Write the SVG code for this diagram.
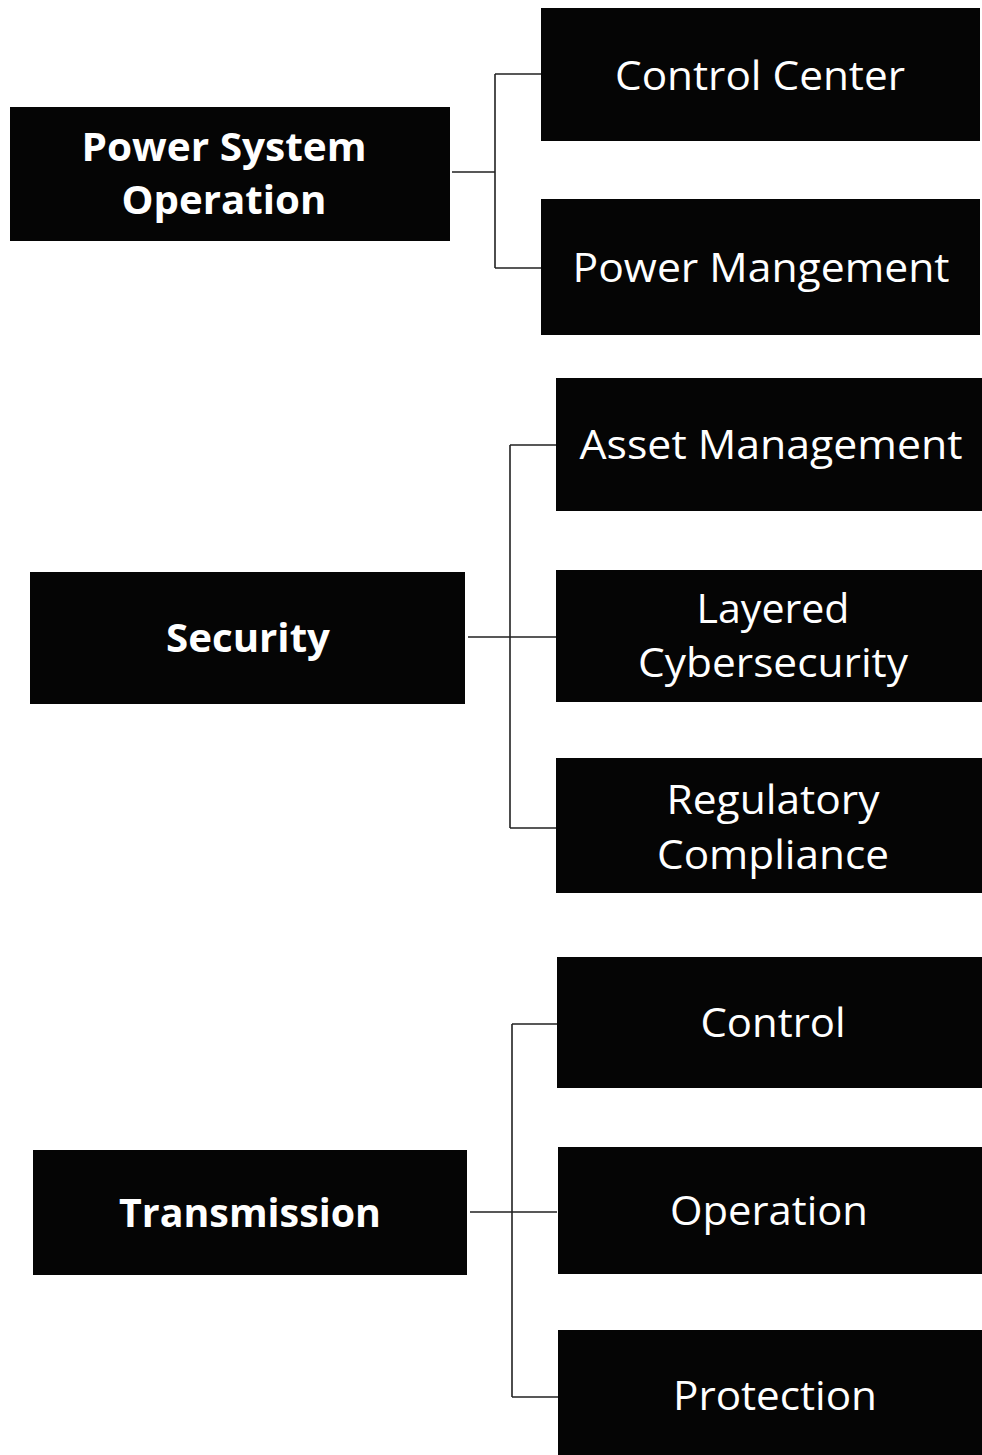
<svg xmlns="http://www.w3.org/2000/svg" width="982" height="1455" viewBox="0 0 982 1455">
<style>
.box{fill:#050505}
.t{fill:#fff;font-family:"Open Sans","Noto Sans",sans-serif;font-size:40px;text-anchor:middle}
.b{font-weight:bold}
.c{stroke:#222;stroke-width:1.6;fill:none}
</style>
<rect width="982" height="1455" fill="#fff"/>
<g id="connectors">
<path class="c" d="M452 172H495M495 74V268M495 74H541M495 268H541"/>
<path class="c" d="M468 637H556M510 445V828M510 445H556M510 828H556"/>
<path class="c" d="M470 1212H557M512 1024V1397M512 1024H557M512 1397H558"/>
</g>
<g id="pso"><rect class="box" x="10" y="107" width="440" height="134"/>
<text class="t b" x="224" y="161" textLength="285" lengthAdjust="spacingAndGlyphs">Power System</text>
<text class="t b" x="224" y="214" textLength="205" lengthAdjust="spacingAndGlyphs">Operation</text></g>
<g id="control-center"><rect class="box" x="541" y="8" width="439" height="133"/>
<text class="t" x="760" y="90" textLength="290" lengthAdjust="spacingAndGlyphs">Control Center</text></g>
<g id="power-mangement"><rect class="box" x="541" y="199" width="439" height="136"/>
<text class="t" x="761" y="282" textLength="377" lengthAdjust="spacingAndGlyphs">Power Mangement</text></g>
<g id="security"><rect class="box" x="30" y="572" width="435" height="132"/>
<text class="t b" x="248" y="652" textLength="164" lengthAdjust="spacingAndGlyphs">Security</text></g>
<g id="asset-management"><rect class="box" x="556" y="378" width="426" height="133"/>
<text class="t" x="771" y="459" textLength="383" lengthAdjust="spacingAndGlyphs">Asset Management</text></g>
<g id="layered-cybersecurity"><rect class="box" x="556" y="570" width="426" height="132"/>
<text class="t" x="773" y="623" textLength="153" lengthAdjust="spacingAndGlyphs">Layered</text>
<text class="t" x="773" y="677" textLength="270" lengthAdjust="spacingAndGlyphs">Cybersecurity</text></g>
<g id="regulatory-compliance"><rect class="box" x="556" y="758" width="426" height="135"/>
<text class="t" x="773" y="814" textLength="213" lengthAdjust="spacingAndGlyphs">Regulatory</text>
<text class="t" x="773" y="869" textLength="232" lengthAdjust="spacingAndGlyphs">Compliance</text></g>
<g id="transmission"><rect class="box" x="33" y="1150" width="434" height="125"/>
<text class="t b" x="250" y="1227" textLength="262" lengthAdjust="spacingAndGlyphs">Transmission</text></g>
<g id="control"><rect class="box" x="557" y="957" width="425" height="131"/>
<text class="t" x="773" y="1037" textLength="145" lengthAdjust="spacingAndGlyphs">Control</text></g>
<g id="operation"><rect class="box" x="558" y="1147" width="424" height="127"/>
<text class="t" x="769" y="1225" textLength="198" lengthAdjust="spacingAndGlyphs">Operation</text></g>
<g id="protection"><rect class="box" x="558" y="1330" width="424" height="125"/>
<text class="t" x="775" y="1410" textLength="204" lengthAdjust="spacingAndGlyphs">Protection</text></g>
</svg>
